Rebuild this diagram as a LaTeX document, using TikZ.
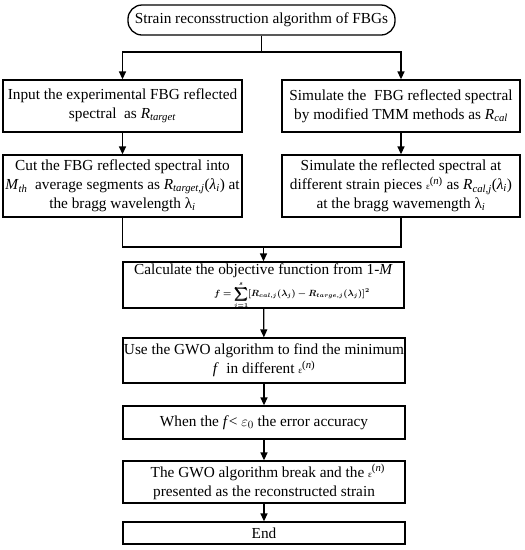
\documentclass[tikz,border=0pt]{standalone}
\usepackage{amsmath,bm}
\usepackage{fontspec}
\setmainfont{Liberation Serif}
\usetikzlibrary{arrows.meta}
\newcommand{\sbi}[1]{\textsubscript{\textit{#1}}}
\newcommand{\epsn}{{\small ε}\textsuperscript{(\textit{n})}}
\begin{document}
\begin{tikzpicture}[x=1pt,y=-1pt,
  box/.style={draw,line width=1.3pt,align=center,inner sep=0pt,font=\fontsize{15.3}{19}\selectfont},
  conn/.style={line width=1.3pt},
  arr/.style={line width=1.3pt,-{Triangle[length=8pt,width=7pt]}}]
\useasboundingbox (0,0) rectangle (525,550);
\node[box,rounded corners=14pt,minimum width=267pt,minimum height=30pt] (top) at (261.5,20) {Strain reconsstruction algorithm of FBGs};
\node[box,minimum width=239pt,minimum height=52pt] (l1) at (122.5,106) {Input the experimental FBG reflected\\ spectral\ \ as \textit{R}\sbi{target}};
\node[box,minimum width=238pt,minimum height=52pt] (r1) at (401,106) {Simulate the\ \ FBG reflected spectral\\ by modified TMM methods as \textit{R}\sbi{cal}};
\node[box,minimum width=239pt,minimum height=62pt] (l2) at (122.5,186) {Cut the FBG reflected spectral into\\ \textit{M}\sbi{th}\ \ average segments as \textit{R}\sbi{target,j}(\textit{λ}\sbi{i}) at\\ the bragg wavelength λ\sbi{i}};
\node[box,minimum width=238pt,minimum height=62pt] (r2) at (401,186) {Simulate the reflected spectral at\\ different strain pieces \epsn\ as \textit{R}\sbi{cal,j}(\textit{λ}\sbi{i})\\ at the bragg wavemength λ\sbi{i}};
\node[box,minimum width=281pt,minimum height=46pt] (calc) at (263.5,285) {};
\node[font=\fontsize{15.3}{19}\selectfont,inner sep=0pt] (calct) at (263.5,270.5) {Calculate the objective function from 1-\textit{M}};
\node[inner sep=0pt] (calcf) at (292,295.5) {\fontsize{8.6}{10}\selectfont$\displaystyle\bm{f=\sum_{j=1}^{s}[R_{cal,j}(\lambda_j)-R_{targe,j}(\lambda_j)]^2}$};
\node[box,minimum width=282pt,minimum height=45pt] (use) at (264,360.5) {Use the GWO algorithm to find the minimum\\ \textit{f}\ \ in different \epsn};
\node[box,minimum width=282pt,minimum height=33pt] (when) at (264,422.5) {When the \textit{f}< $\varepsilon_0$ the error accuracy};
\node[box,minimum width=282pt,minimum height=42pt] (gwo) at (264,482) {\ \ The GWO algorithm break and the \epsn\\ presented as the reconstructed strain};
\node[box,minimum width=282pt,minimum height=22pt] (end) at (264,533) {End};
\coordinate (j1) at (261.5,52);
\draw[conn] (top.south) -- (j1);
\draw[arr] (j1) -| (l1.north);
\draw[arr] (j1) -| (r1.north);
\draw[arr] (l1) -- (l2);
\draw[arr] (r1) -- (r2);
\coordinate (j2) at (263.5,247);
\draw[conn] (l2.south) |- (j2);
\draw[conn] (r2.south) |- (j2);
\draw[arr] (j2) -- (calc.north);
\draw[arr] (calc) -- (use);
\draw[arr] (use) -- (when);
\draw[arr] (when) -- (gwo);
\draw[arr] (gwo) -- (end);
\end{tikzpicture}
\end{document}
